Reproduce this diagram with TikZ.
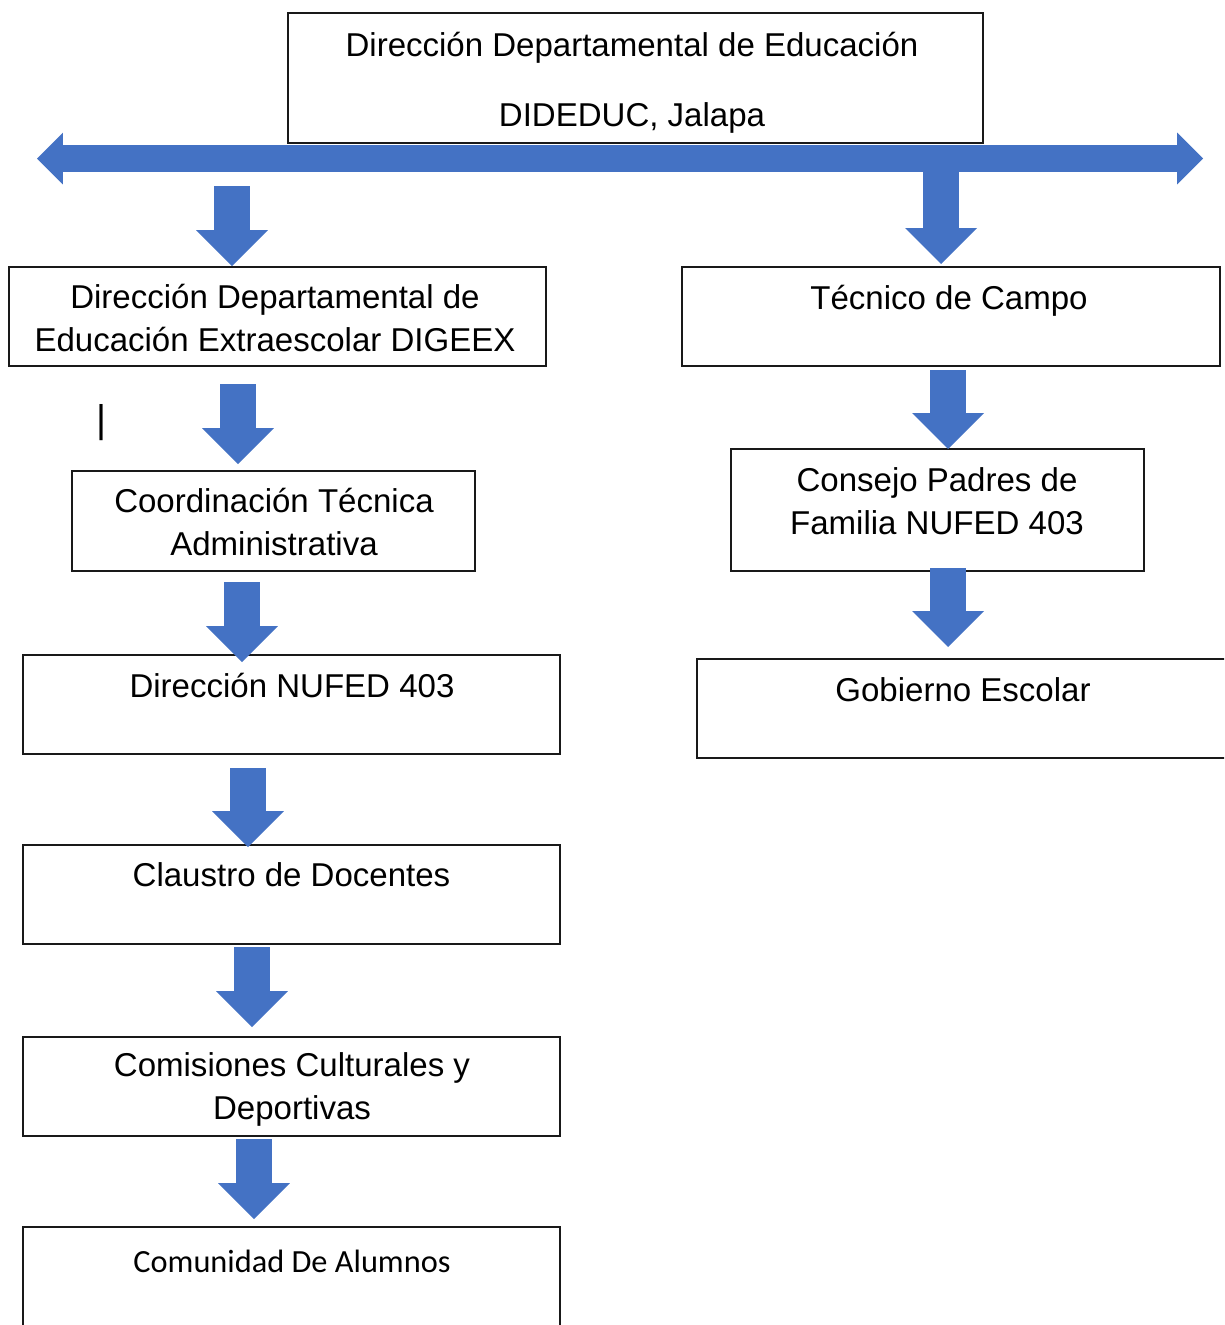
\documentclass[tikz,border=0pt]{standalone}
\usepackage{fontspec}
\setmainfont{Liberation Sans}
\newfontfamily\calibriFont{Carlito}
\usetikzlibrary{arrows.meta}
\definecolor{arrowBlue}{HTML}{4472C4}

\begin{document}
\begin{tikzpicture}
[x=0.02cm,y=-0.02cm,
  every node/.style={inner sep=0pt},
  boxStyle/.style={draw=black!90,line width=0.85pt,minimum height=1.98cm},
  textStyle/.style={anchor=north,align=center,execute at begin node=\strut},
  blockArrow/.style={arrowBlue,line width=0.72cm,
    -{Triangle[length=0.72cm,width=1.44cm,line width=0pt]}},
  mainArrow/.style={arrowBlue,line width=0.54cm,
    {Triangle[length=0.52cm,width=1.04cm,line width=0pt]}-{Triangle[length=0.52cm,width=1.04cm,line width=0pt]}}]
\fontsize{18.8pt}{24.4pt}\selectfont
\useasboundingbox (0,0) rectangle (1224,1325);
\clip (0,0) rectangle (1224,1325);

% boxes
\node[boxStyle,minimum width=13.9cm,minimum height=2.6cm] (dideduc) at (635.5,78) {};
\node[boxStyle,minimum width=10.74cm] (digeex) at (277.5,316.5) {};
\node[boxStyle,minimum width=10.76cm] (tecnico) at (951,316.5) {};
\node[boxStyle,minimum width=8.06cm,minimum height=2cm] (coordinacion) at (273.5,521) {};
\node[boxStyle,minimum width=8.26cm,minimum height=2.44cm] (consejo) at (937.5,510) {};
\node[boxStyle,minimum width=10.74cm] (nufed) at (291.5,704.5) {};
\node[boxStyle,minimum width=10.86cm] (gobierno) at (968.5,708.5) {};
\node[boxStyle,minimum width=10.74cm] (claustro) at (291.5,894.5) {};
\node[boxStyle,minimum width=10.74cm] (comisiones) at (291.5,1086.5) {};
\node[boxStyle,minimum width=10.74cm,minimum height=2.4cm] (comunidad) at (291.5,1287) {};

% texts
\node[textStyle] (dideducText) at (632,31.6)
  {Dirección Departamental de Educación\\[15.3pt]DIDEDUC, Jalapa};
\node[textStyle] (digeexText) at (275,283.6)
  {Dirección Departamental de\\Educación Extraescolar DIGEEX};
\node[textStyle] (tecnicoText) at (949,279.6) {Técnico de Campo};
\node[textStyle] (coordinacionText) at (274,487.6)
  {Coordinación Técnica\\Administrativa};
\node[textStyle] (consejoText) at (937,467.6)
  {Consejo Padres de\\Familia NUFED 403};
\node[textStyle] (nufedText) at (292,667.6) {Dirección NUFED 403};
\node[textStyle] (gobiernoText) at (963,671.6) {Gobierno Escolar};
\node[textStyle] (claustroText) at (291.5,856.6) {Claustro de Docentes};
\node[textStyle] (comisionesText) at (292,1052.6)
  {Comisiones Culturales y\\Deportivas};
\node[textStyle,font=\calibriFont\fontsize{18.4pt}{24.4pt}\selectfont] (comunidadText)
  at (292,1242.6) {Comunidad De Alumnos};
\node[font=\fontsize{22pt}{26pt}\selectfont] (cursorMark) at (101.5,423) {|};

% arrows
\coordinate (leftTip) at (37,158.5);
\coordinate (rightTip) at (1203,158.5);
\draw[mainArrow] (leftTip) -- (rightTip);
\foreach \name/\x/\yStart/\yEnd in {
  a/232/186/266, b/238/384/464, c/242/582/662, d/248/768/847,
  e/252/947/1027, f/254/1139/1219, g/941/165/264, h/948/370/449,
  i/948/568/647}
{
  \coordinate (\name Start) at (\x,\yStart);
  \coordinate (\name End) at (\x,\yEnd);
  \draw[blockArrow] (\name Start) -- (\name End);
}
\end{tikzpicture}
\end{document}
